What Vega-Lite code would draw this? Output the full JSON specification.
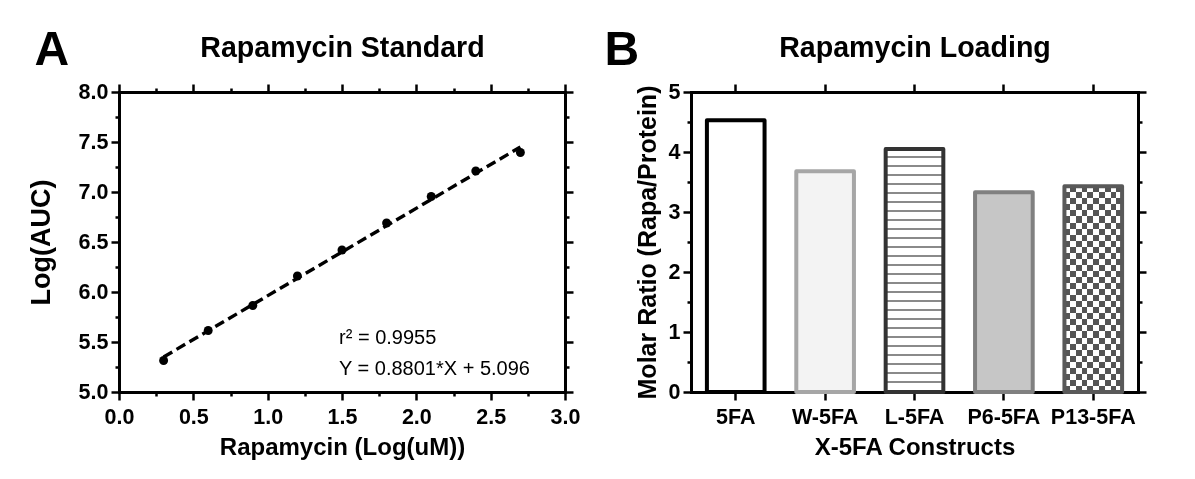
{
  "$schema": "https://vega.github.io/schema/vega-lite/v6.json",
  "background": "white",
  "padding": {"left": 27, "top": 26, "right": 5, "bottom": 5},
  "datasets": {
    "std": [
      {"conc": 0.3, "logauc": 5.315},
      {"conc": 0.6, "logauc": 5.615},
      {"conc": 0.9, "logauc": 5.865},
      {"conc": 1.2, "logauc": 6.16},
      {"conc": 1.5, "logauc": 6.42},
      {"conc": 1.8, "logauc": 6.69},
      {"conc": 2.1, "logauc": 6.955},
      {"conc": 2.4, "logauc": 7.21},
      {"conc": 2.7, "logauc": 7.395}
    ],
    "fit": [
      {"conc": 0.3, "logauc": 5.35},
      {"conc": 2.7, "logauc": 7.45}
    ],
    "ann": [
      {"conc": 1.48, "logauc": 5.485, "label": "r² = 0.9955"},
      {"conc": 1.48, "logauc": 5.175, "label": "Y = 0.8801*X + 5.096"}
    ],
    "loading": [
      {"construct": "5FA", "ratio": 4.53},
      {"construct": "W-5FA", "ratio": 3.68},
      {"construct": "L-5FA", "ratio": 4.05},
      {"construct": "P6-5FA", "ratio": 3.33},
      {"construct": "P13-5FA", "ratio": 3.43}
    ]
  },
  "spacing": 24,
  "hconcat": [
    {
      "width": 446,
      "height": 300,
      "layer": [
        {
          "data": {"name": "fit"},
          "mark": {"type": "line", "color": "black", "strokeWidth": 3.4, "strokeDash": [10, 5]},
          "encoding": {
            "x": {"field": "conc", "type": "quantitative",
              "scale": {"domain": [0, 3], "nice": false, "zero": false},
              "axis": {"orient": "bottom", "values": [0, 0.25, 0.5, 0.75, 1, 1.25, 1.5, 1.75, 2, 2.25, 2.5, 2.75, 3],
                "tickSize": {"condition": {"test": "round(datum.value*4) % 2 === 0", "value": 8}, "value": 4},
                "labelExpr": "round(datum.value*4) % 2 === 0 ? format(datum.value, '.1f') : ''",
                "labelPadding": 6, "title": "Rapamycin (Log(uM))", "titlePadding": 8}},
            "y": {"field": "logauc", "type": "quantitative",
              "scale": {"domain": [5, 8], "nice": false, "zero": false},
              "axis": {"orient": "left", "values": [5, 5.25, 5.5, 5.75, 6, 6.25, 6.5, 6.75, 7, 7.25, 7.5, 7.75, 8],
                "tickSize": {"condition": {"test": "round(datum.value*4) % 2 === 0", "value": 8}, "value": 4},
                "labelExpr": "round(datum.value*4) % 2 === 0 ? format(datum.value, '.1f') : ''",
                "labelPadding": 3, "title": "Log(AUC)", "titleFontSize": 27, "titlePadding": 23}}
          }
        },
        {
          "data": {"name": "std"},
          "mark": {"type": "point", "filled": true, "shape": "circle", "color": "black", "size": 80, "opacity": 1},
          "encoding": {
            "x": {"field": "conc", "type": "quantitative",
              "scale": {"domain": [0, 3], "nice": false, "zero": false},
              "axis": {"orient": "top", "values": [0, 0.25, 0.5, 0.75, 1, 1.25, 1.5, 1.75, 2, 2.25, 2.5, 2.75, 3],
                "tickSize": {"condition": {"test": "round(datum.value*4) % 2 === 0", "value": 8}, "value": 4},
                "labels": false, "title": "Rapamycin Standard", "titleFontSize": 28.6, "titleBaseline": "alphabetic", "titlePadding": 26}},
            "y": {"field": "logauc", "type": "quantitative",
              "scale": {"domain": [5, 8], "nice": false, "zero": false},
              "axis": {"orient": "right", "values": [5, 5.25, 5.5, 5.75, 6, 6.25, 6.5, 6.75, 7, 7.25, 7.5, 7.75, 8],
                "tickSize": {"condition": {"test": "round(datum.value*4) % 2 === 0", "value": 8}, "value": 4},
                "labels": false, "title": null}}
          }
        },
        {
          "data": {"name": "ann"},
          "mark": {"type": "text", "align": "left", "baseline": "alphabetic", "fontSize": 20, "font": "Liberation Sans", "color": "black"},
          "encoding": {
            "x": {"field": "conc", "type": "quantitative", "scale": {"domain": [0, 3], "nice": false, "zero": false},
              "axis": {"orient": "top", "domain": false, "ticks": false, "labels": false, "title": "A", "titleFontSize": 48, "titleAnchor": "start", "titleAlign": "left", "titleBaseline": "alphabetic", "titlePadding": 28, "titleX": -85}},
            "y": {"field": "logauc", "type": "quantitative", "scale": {"domain": [5, 8], "nice": false, "zero": false}, "axis": null},
            "text": {"field": "label"}
          }
        }
      ],
      "resolve": {"axis": {"x": "independent", "y": "independent"}}
    },
    {
      "width": 447,
      "height": 300,
      "data": {"name": "loading"},
      "layer": [
        {
          "mark": {"type": "bar", "strokeWidth": 0},
          "encoding": {
            "x": {"field": "construct", "type": "nominal",
              "scale": {"domain": ["5FA", "W-5FA", "L-5FA", "P6-5FA", "P13-5FA"], "paddingInner": 0.355, "paddingOuter": 0.178},
              "axis": {"orient": "bottom", "tickSize": 8, "labelAngle": 0, "labelPadding": 6, "title": "X-5FA Constructs", "titlePadding": 8}},
            "y": {"field": "ratio", "type": "quantitative",
              "scale": {"domain": [0, 5], "nice": false},
              "axis": {"orient": "left", "values": [0, 0.5, 1, 1.5, 2, 2.5, 3, 3.5, 4, 4.5, 5],
                "tickSize": {"condition": {"test": "round(datum.value*2) % 2 === 0", "value": 8}, "value": 4},
                "labelExpr": "round(datum.value*2) % 2 === 0 ? format(datum.value, 'd') : ''",
                "labelPadding": 3, "title": "Molar Ratio (Rapa/Protein)", "titleFontSize": 25, "titlePadding": 8}},
            "fill": {
              "condition": [
                {"test": "datum.construct === 'W-5FA'", "value": "#f3f3f3"},
                {"test": "datum.construct === 'L-5FA'", "value": {"gradient": "linear", "x1": 0, "y1": 0, "x2": 0, "y2": 1, "stops": [
                  {"offset": 0, "color": "#ffffff"},
                  {"offset": 0.0306, "color": "#ffffff"}, {"offset": 0.0306, "color": "#8a8a8a"}, {"offset": 0.0368, "color": "#8a8a8a"}, {"offset": 0.0368, "color": "#ffffff"},
                  {"offset": 0.0677, "color": "#ffffff"}, {"offset": 0.0677, "color": "#8a8a8a"}, {"offset": 0.0739, "color": "#8a8a8a"}, {"offset": 0.0739, "color": "#ffffff"},
                  {"offset": 0.1047, "color": "#ffffff"}, {"offset": 0.1047, "color": "#8a8a8a"}, {"offset": 0.1109, "color": "#8a8a8a"}, {"offset": 0.1109, "color": "#ffffff"},
                  {"offset": 0.1417, "color": "#ffffff"}, {"offset": 0.1417, "color": "#8a8a8a"}, {"offset": 0.1479, "color": "#8a8a8a"}, {"offset": 0.1479, "color": "#ffffff"},
                  {"offset": 0.1788, "color": "#ffffff"}, {"offset": 0.1788, "color": "#8a8a8a"}, {"offset": 0.1850, "color": "#8a8a8a"}, {"offset": 0.1850, "color": "#ffffff"},
                  {"offset": 0.2158, "color": "#ffffff"}, {"offset": 0.2158, "color": "#8a8a8a"}, {"offset": 0.2220, "color": "#8a8a8a"}, {"offset": 0.2220, "color": "#ffffff"},
                  {"offset": 0.2529, "color": "#ffffff"}, {"offset": 0.2529, "color": "#8a8a8a"}, {"offset": 0.2591, "color": "#8a8a8a"}, {"offset": 0.2591, "color": "#ffffff"},
                  {"offset": 0.2899, "color": "#ffffff"}, {"offset": 0.2899, "color": "#8a8a8a"}, {"offset": 0.2961, "color": "#8a8a8a"}, {"offset": 0.2961, "color": "#ffffff"},
                  {"offset": 0.3269, "color": "#ffffff"}, {"offset": 0.3269, "color": "#8a8a8a"}, {"offset": 0.3331, "color": "#8a8a8a"}, {"offset": 0.3331, "color": "#ffffff"},
                  {"offset": 0.3640, "color": "#ffffff"}, {"offset": 0.3640, "color": "#8a8a8a"}, {"offset": 0.3702, "color": "#8a8a8a"}, {"offset": 0.3702, "color": "#ffffff"},
                  {"offset": 0.4010, "color": "#ffffff"}, {"offset": 0.4010, "color": "#8a8a8a"}, {"offset": 0.4072, "color": "#8a8a8a"}, {"offset": 0.4072, "color": "#ffffff"},
                  {"offset": 0.4380, "color": "#ffffff"}, {"offset": 0.4380, "color": "#8a8a8a"}, {"offset": 0.4442, "color": "#8a8a8a"}, {"offset": 0.4442, "color": "#ffffff"},
                  {"offset": 0.4751, "color": "#ffffff"}, {"offset": 0.4751, "color": "#8a8a8a"}, {"offset": 0.4813, "color": "#8a8a8a"}, {"offset": 0.4813, "color": "#ffffff"},
                  {"offset": 0.5121, "color": "#ffffff"}, {"offset": 0.5121, "color": "#8a8a8a"}, {"offset": 0.5183, "color": "#8a8a8a"}, {"offset": 0.5183, "color": "#ffffff"},
                  {"offset": 0.5492, "color": "#ffffff"}, {"offset": 0.5492, "color": "#8a8a8a"}, {"offset": 0.5554, "color": "#8a8a8a"}, {"offset": 0.5554, "color": "#ffffff"},
                  {"offset": 0.5862, "color": "#ffffff"}, {"offset": 0.5862, "color": "#8a8a8a"}, {"offset": 0.5924, "color": "#8a8a8a"}, {"offset": 0.5924, "color": "#ffffff"},
                  {"offset": 0.6232, "color": "#ffffff"}, {"offset": 0.6232, "color": "#8a8a8a"}, {"offset": 0.6294, "color": "#8a8a8a"}, {"offset": 0.6294, "color": "#ffffff"},
                  {"offset": 0.6603, "color": "#ffffff"}, {"offset": 0.6603, "color": "#8a8a8a"}, {"offset": 0.6665, "color": "#8a8a8a"}, {"offset": 0.6665, "color": "#ffffff"},
                  {"offset": 0.6973, "color": "#ffffff"}, {"offset": 0.6973, "color": "#8a8a8a"}, {"offset": 0.7035, "color": "#8a8a8a"}, {"offset": 0.7035, "color": "#ffffff"},
                  {"offset": 0.7343, "color": "#ffffff"}, {"offset": 0.7343, "color": "#8a8a8a"}, {"offset": 0.7405, "color": "#8a8a8a"}, {"offset": 0.7405, "color": "#ffffff"},
                  {"offset": 0.7714, "color": "#ffffff"}, {"offset": 0.7714, "color": "#8a8a8a"}, {"offset": 0.7776, "color": "#8a8a8a"}, {"offset": 0.7776, "color": "#ffffff"},
                  {"offset": 0.8084, "color": "#ffffff"}, {"offset": 0.8084, "color": "#8a8a8a"}, {"offset": 0.8146, "color": "#8a8a8a"}, {"offset": 0.8146, "color": "#ffffff"},
                  {"offset": 0.8455, "color": "#ffffff"}, {"offset": 0.8455, "color": "#8a8a8a"}, {"offset": 0.8517, "color": "#8a8a8a"}, {"offset": 0.8517, "color": "#ffffff"},
                  {"offset": 0.8825, "color": "#ffffff"}, {"offset": 0.8825, "color": "#8a8a8a"}, {"offset": 0.8887, "color": "#8a8a8a"}, {"offset": 0.8887, "color": "#ffffff"},
                  {"offset": 0.9195, "color": "#ffffff"}, {"offset": 0.9195, "color": "#8a8a8a"}, {"offset": 0.9257, "color": "#8a8a8a"}, {"offset": 0.9257, "color": "#ffffff"},
                  {"offset": 0.9566, "color": "#ffffff"}, {"offset": 0.9566, "color": "#8a8a8a"}, {"offset": 0.9628, "color": "#8a8a8a"}, {"offset": 0.9628, "color": "#ffffff"},
                  {"offset": 1, "color": "#ffffff"}
                ]}},
                {"test": "datum.construct === 'P6-5FA'", "value": "#c6c6c6"},
                {"test": "datum.construct === 'P13-5FA'", "value": {"gradient": "linear", "x1": 0, "y1": 0, "x2": 0, "y2": 1, "stops": [
                  {"offset": 0, "color": "#000000"}, {"offset": 0.0294, "color": "#000000"},
                  {"offset": 0.0294, "color": "#ffffff"}, {"offset": 0.0588, "color": "#ffffff"},
                  {"offset": 0.0588, "color": "#000000"}, {"offset": 0.0882, "color": "#000000"},
                  {"offset": 0.0882, "color": "#ffffff"}, {"offset": 0.1176, "color": "#ffffff"},
                  {"offset": 0.1176, "color": "#000000"}, {"offset": 0.1471, "color": "#000000"},
                  {"offset": 0.1471, "color": "#ffffff"}, {"offset": 0.1765, "color": "#ffffff"},
                  {"offset": 0.1765, "color": "#000000"}, {"offset": 0.2059, "color": "#000000"},
                  {"offset": 0.2059, "color": "#ffffff"}, {"offset": 0.2353, "color": "#ffffff"},
                  {"offset": 0.2353, "color": "#000000"}, {"offset": 0.2647, "color": "#000000"},
                  {"offset": 0.2647, "color": "#ffffff"}, {"offset": 0.2941, "color": "#ffffff"},
                  {"offset": 0.2941, "color": "#000000"}, {"offset": 0.3235, "color": "#000000"},
                  {"offset": 0.3235, "color": "#ffffff"}, {"offset": 0.3529, "color": "#ffffff"},
                  {"offset": 0.3529, "color": "#000000"}, {"offset": 0.3824, "color": "#000000"},
                  {"offset": 0.3824, "color": "#ffffff"}, {"offset": 0.4118, "color": "#ffffff"},
                  {"offset": 0.4118, "color": "#000000"}, {"offset": 0.4412, "color": "#000000"},
                  {"offset": 0.4412, "color": "#ffffff"}, {"offset": 0.4706, "color": "#ffffff"},
                  {"offset": 0.4706, "color": "#000000"}, {"offset": 0.5, "color": "#000000"},
                  {"offset": 0.5, "color": "#ffffff"}, {"offset": 0.5294, "color": "#ffffff"},
                  {"offset": 0.5294, "color": "#000000"}, {"offset": 0.5588, "color": "#000000"},
                  {"offset": 0.5588, "color": "#ffffff"}, {"offset": 0.5882, "color": "#ffffff"},
                  {"offset": 0.5882, "color": "#000000"}, {"offset": 0.6176, "color": "#000000"},
                  {"offset": 0.6176, "color": "#ffffff"}, {"offset": 0.6471, "color": "#ffffff"},
                  {"offset": 0.6471, "color": "#000000"}, {"offset": 0.6765, "color": "#000000"},
                  {"offset": 0.6765, "color": "#ffffff"}, {"offset": 0.7059, "color": "#ffffff"},
                  {"offset": 0.7059, "color": "#000000"}, {"offset": 0.7353, "color": "#000000"},
                  {"offset": 0.7353, "color": "#ffffff"}, {"offset": 0.7647, "color": "#ffffff"},
                  {"offset": 0.7647, "color": "#000000"}, {"offset": 0.7941, "color": "#000000"},
                  {"offset": 0.7941, "color": "#ffffff"}, {"offset": 0.8235, "color": "#ffffff"},
                  {"offset": 0.8235, "color": "#000000"}, {"offset": 0.8529, "color": "#000000"},
                  {"offset": 0.8529, "color": "#ffffff"}, {"offset": 0.8824, "color": "#ffffff"},
                  {"offset": 0.8824, "color": "#000000"}, {"offset": 0.9118, "color": "#000000"},
                  {"offset": 0.9118, "color": "#ffffff"}, {"offset": 0.9412, "color": "#ffffff"},
                  {"offset": 0.9412, "color": "#000000"}, {"offset": 0.9706, "color": "#000000"},
                  {"offset": 0.9706, "color": "#ffffff"}, {"offset": 1, "color": "#ffffff"}
                ]}}
              ],
              "value": "#ffffff"
            }
          }
        },
        {
          "mark": {"type": "bar", "strokeWidth": 0, "blend": "difference"},
          "encoding": {
            "x": {"field": "construct", "type": "nominal",
              "scale": {"domain": ["5FA", "W-5FA", "L-5FA", "P6-5FA", "P13-5FA"], "paddingInner": 0.355, "paddingOuter": 0.178},
              "axis": {"orient": "top", "domain": false, "ticks": false, "labels": false, "title": "B", "titleFontSize": 48, "titleAnchor": "start", "titleAlign": "left", "titleBaseline": "alphabetic", "titlePadding": 28, "titleX": -87}},
            "y": {"field": "ratio", "type": "quantitative", "scale": {"domain": [0, 5], "nice": false}, "axis": null},
            "fill": {
              "condition": {"test": "datum.construct === 'P13-5FA'", "value": {"gradient": "linear", "x1": 0, "y1": 0, "x2": 1, "y2": 0, "stops": [
                {"offset": 0, "color": "#ffffff"}, {"offset": 0.1, "color": "#ffffff"},
                {"offset": 0.1, "color": "#000000"}, {"offset": 0.2, "color": "#000000"},
                {"offset": 0.2, "color": "#ffffff"}, {"offset": 0.3, "color": "#ffffff"},
                {"offset": 0.3, "color": "#000000"}, {"offset": 0.4, "color": "#000000"},
                {"offset": 0.4, "color": "#ffffff"}, {"offset": 0.5, "color": "#ffffff"},
                {"offset": 0.5, "color": "#000000"}, {"offset": 0.6, "color": "#000000"},
                {"offset": 0.6, "color": "#ffffff"}, {"offset": 0.7, "color": "#ffffff"},
                {"offset": 0.7, "color": "#000000"}, {"offset": 0.8, "color": "#000000"},
                {"offset": 0.8, "color": "#ffffff"}, {"offset": 0.9, "color": "#ffffff"},
                {"offset": 0.9, "color": "#000000"}, {"offset": 1, "color": "#000000"}
              ]}},
              "value": null
            }
          }
        },
        {
          "mark": {"type": "bar", "strokeWidth": 0, "blend": "lighten"},
          "encoding": {
            "x": {"field": "construct", "type": "nominal",
              "scale": {"domain": ["5FA", "W-5FA", "L-5FA", "P6-5FA", "P13-5FA"], "paddingInner": 0.355, "paddingOuter": 0.178},
              "axis": null},
            "y": {"field": "ratio", "type": "quantitative", "scale": {"domain": [0, 5], "nice": false}, "axis": null},
            "fill": {"condition": {"test": "datum.construct === 'P13-5FA'", "value": "#555555"}, "value": null}
          }
        },
        {
          "mark": {"type": "bar", "fillOpacity": 0, "strokeWidth": 4, "strokeJoin": "round"},
          "encoding": {
            "x": {"field": "construct", "type": "nominal",
              "scale": {"domain": ["5FA", "W-5FA", "L-5FA", "P6-5FA", "P13-5FA"], "paddingInner": 0.355, "paddingOuter": 0.178},
              "axis": {"orient": "top", "tickSize": 8, "labels": false, "title": "Rapamycin Loading", "titleFontSize": 28.6, "titleBaseline": "alphabetic", "titlePadding": 26}},
            "y": {"field": "ratio", "type": "quantitative",
              "scale": {"domain": [0, 5], "nice": false},
              "axis": {"orient": "right", "values": [0, 0.5, 1, 1.5, 2, 2.5, 3, 3.5, 4, 4.5, 5],
                "tickSize": {"condition": {"test": "round(datum.value*2) % 2 === 0", "value": 8}, "value": 4},
                "labels": false, "title": null}},
            "stroke": {
              "condition": [
                {"test": "datum.construct === 'W-5FA'", "value": "#a6a6a6"},
                {"test": "datum.construct === 'L-5FA'", "value": "#333333"},
                {"test": "datum.construct === 'P6-5FA'", "value": "#808080"},
                {"test": "datum.construct === 'P13-5FA'", "value": "#595959"}
              ],
              "value": "#000000"
            }
          }
        }
      ],
      "resolve": {"axis": {"x": "independent", "y": "independent"}}
    }
  ],
  "config": {
    "view": {"stroke": null},
    "font": "Liberation Sans",
    "axis": {
      "grid": false,
      "domainColor": "black",
      "domainWidth": 3,
      "domainCap": "square",
      "tickColor": "black",
      "tickWidth": 2.5,
      "labelFont": "Liberation Sans",
      "labelFontSize": 21.5,
      "labelFontWeight": "bold",
      "labelColor": "black",
      "labelFlush": false,
      "labelOverlap": false,
      "labelBound": false,
      "titleFont": "Liberation Sans",
      "titleFontSize": 24,
      "titleFontWeight": "bold",
      "titleColor": "black"
    }
  }
}
